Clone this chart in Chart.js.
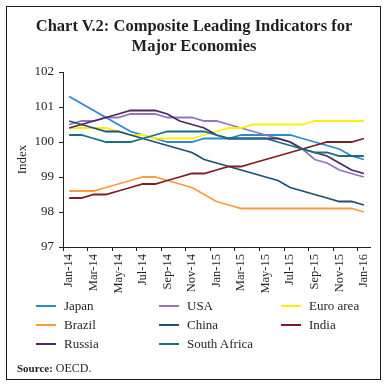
<!DOCTYPE html>
<html>
<head>
<meta charset="utf-8">
<script src="https://cdn.jsdelivr.net/npm/chart.js@4.4.1/dist/chart.umd.min.js"></script>
<style>
  html, body { margin: 0; padding: 0; background: #fff; }
  #wrap { position: relative; width: 388px; height: 388px; overflow: hidden; font-family: "Liberation Serif", "DejaVu Serif", serif; color: #111; }
  #frame { position: absolute; left: 6px; top: 6px; width: 373px; height: 372px; border: 1.6px solid #1a1a1a; pointer-events: none; }
  #title { position: absolute; left: 0; top: 16px; width: 388px; text-align: center; font-weight: bold; font-size: 16.5px; line-height: 20px; color: #231f20; }
  #chart { position: absolute; left: 0; top: 0; }
  .lg { position: absolute; font-size: 13px; line-height: 14px; color: #231f20; white-space: nowrap; }
  .lg span.mk { position: absolute; left: 0; top: 6px; width: 20px; height: 2px; }
  .lg span.tx { position: absolute; left: 28px; top: 0; }
  #source { position: absolute; left: 17px; top: 361px; font-size: 12px; color: #231f20; }
  #source b { font-size: 11px; }
</style>
</head>
<body>
<div id="wrap">
  <canvas id="chart" width="388" height="388"></canvas>
  <div id="title">Chart V.2: Composite Leading Indicators for<br>Major Economies</div>
  <div id="legend"></div>
  <div id="source"><b>Source:</b> OECD.</div>
  <div id="frame"></div>
</div>
<script>
const months = ["Jan-14","Feb-14","Mar-14","Apr-14","May-14","Jun-14","Jul-14","Aug-14","Sep-14","Oct-14","Nov-14","Dec-14",
                "Jan-15","Feb-15","Mar-15","Apr-15","May-15","Jun-15","Jul-15","Aug-15","Sep-15","Oct-15","Nov-15","Dec-15","Jan-16"];

const japan       = [101.3,101.1,100.9,100.7,100.5,100.3,100.2,100.1,100.0,100.0,100.0,100.1,100.1,100.1,100.2,100.2,100.2,100.2,100.2,100.1,100.0,99.9,99.8,99.6,99.5];
const usa         = [100.5,100.6,100.6,100.7,100.7,100.8,100.8,100.8,100.7,100.7,100.7,100.6,100.6,100.5,100.4,100.3,100.2,100.1,100.0,99.8,99.5,99.4,99.2,99.1,99.0];
const euroArea    = [100.4,100.4,100.4,100.4,100.3,100.2,100.2,100.1,100.1,100.1,100.1,100.2,100.3,100.4,100.4,100.5,100.5,100.5,100.5,100.5,100.6,100.6,100.6,100.6,100.6];
const brazil      = [98.6,98.6,98.6,98.7,98.8,98.9,99.0,99.0,98.9,98.8,98.7,98.5,98.3,98.2,98.1,98.1,98.1,98.1,98.1,98.1,98.1,98.1,98.1,98.1,98.0];
const china       = [100.6,100.5,100.4,100.3,100.3,100.2,100.1,100.0,99.9,99.8,99.7,99.5,99.4,99.3,99.2,99.1,99.0,98.9,98.7,98.6,98.5,98.4,98.3,98.3,98.2];
const india       = [98.4,98.4,98.5,98.5,98.6,98.7,98.8,98.8,98.9,99.0,99.1,99.1,99.2,99.3,99.3,99.4,99.5,99.6,99.7,99.8,99.9,100.0,100.0,100.0,100.1];
const russia      = [100.4,100.5,100.6,100.7,100.8,100.9,100.9,100.9,100.8,100.6,100.5,100.4,100.2,100.1,100.1,100.1,100.1,100.1,100.0,99.8,99.7,99.6,99.4,99.2,99.1];
const southAfrica = [100.2,100.2,100.1,100.0,100.0,100.0,100.1,100.2,100.3,100.3,100.3,100.3,100.2,100.1,100.1,100.1,100.1,100.0,99.9,99.8,99.7,99.7,99.6,99.6,99.6];

const seriesNames  = ["Japan","USA","Euro area","Brazil","China","India","Russia","South Africa"];
const seriesData   = [japan, usa, euroArea, brazil, china, india, russia, southAfrica];
const seriesColors = ["#2e88cf","#9575c2","#fff000","#ff9a40","#1f4e79","#7d1f22","#4b2b5c","#17707a"];

const yTicks = [97, 98, 99, 100, 101, 102];

const FONT = "'Liberation Serif', 'DejaVu Serif', serif";

const datasets = seriesNames.map((n, i) => ({
  label: n,
  data: seriesData[i],
  borderColor: seriesColors[i],
  backgroundColor: seriesColors[i],
  borderWidth: 1.8,
  pointRadius: 0,
  tension: 0,
  fill: false,
  order: seriesNames.length - i
}));

new Chart(document.getElementById('chart'), {
  type: 'line',
  data: { labels: months, datasets: datasets },
  options: {
    responsive: false,
    animation: false,
    devicePixelRatio: 1,
    layout: { padding: { left: 0, top: 72, right: 18, bottom: 0 } },
    plugins: { legend: { display: false }, tooltip: { enabled: false }, title: { display: false } },
    scales: {
      x: {
        type: 'category',
        offset: true,
        afterFit: s => { s.height = 141; },
        grid: {
          offset: true,
          drawOnChartArea: false,
          drawTicks: true,
          tickLength: 4,
          color: c => (c.index % 2 === 0 ? '#231f20' : 'rgba(0,0,0,0)'),
          tickColor: c => (c.index % 2 === 0 ? '#231f20' : 'rgba(0,0,0,0)')
        },
        border: { display: true, color: '#231f20', width: 1 },
        ticks: {
          autoSkip: false,
          maxRotation: 90,
          minRotation: 90,
          padding: 3,
          color: '#231f20',
          font: { family: FONT, size: 12.5 },
          callback: function (v, i) { return i % 2 === 0 ? this.getLabelForValue(v) : ''; }
        }
      },
      y: {
        min: yTicks[0],
        max: yTicks[yTicks.length - 1],
        afterFit: s => { s.width = 63; },
        afterBuildTicks: s => { s.ticks = yTicks.map(v => ({ value: v })); },
        grid: { drawOnChartArea: false, drawTicks: true, tickLength: 4, color: '#231f20' },
        border: { display: true, color: '#231f20', width: 1 },
        ticks: { padding: 5, color: '#231f20', font: { family: FONT, size: 13 } },
        title: { display: true, text: 'Index', color: '#231f20', font: { family: FONT, size: 13 }, padding: { top: 15, bottom: 0 } }
      }
    }
  }
});

// Legend (three columns) built from the series arrays
const legend = document.getElementById('legend');
const colX = [36, 159, 281];
const rowY = [299, 318, 337];
seriesNames.forEach((n, i) => {
  const d = document.createElement('div');
  d.className = 'lg';
  d.style.left = colX[i % 3] + 'px';
  d.style.top = rowY[Math.floor(i / 3)] + 'px';
  d.innerHTML = '<span class="mk" style="background:' + seriesColors[i] + '"></span><span class="tx">' + n + '</span>';
  legend.appendChild(d);
});
</script>
</body>
</html>
